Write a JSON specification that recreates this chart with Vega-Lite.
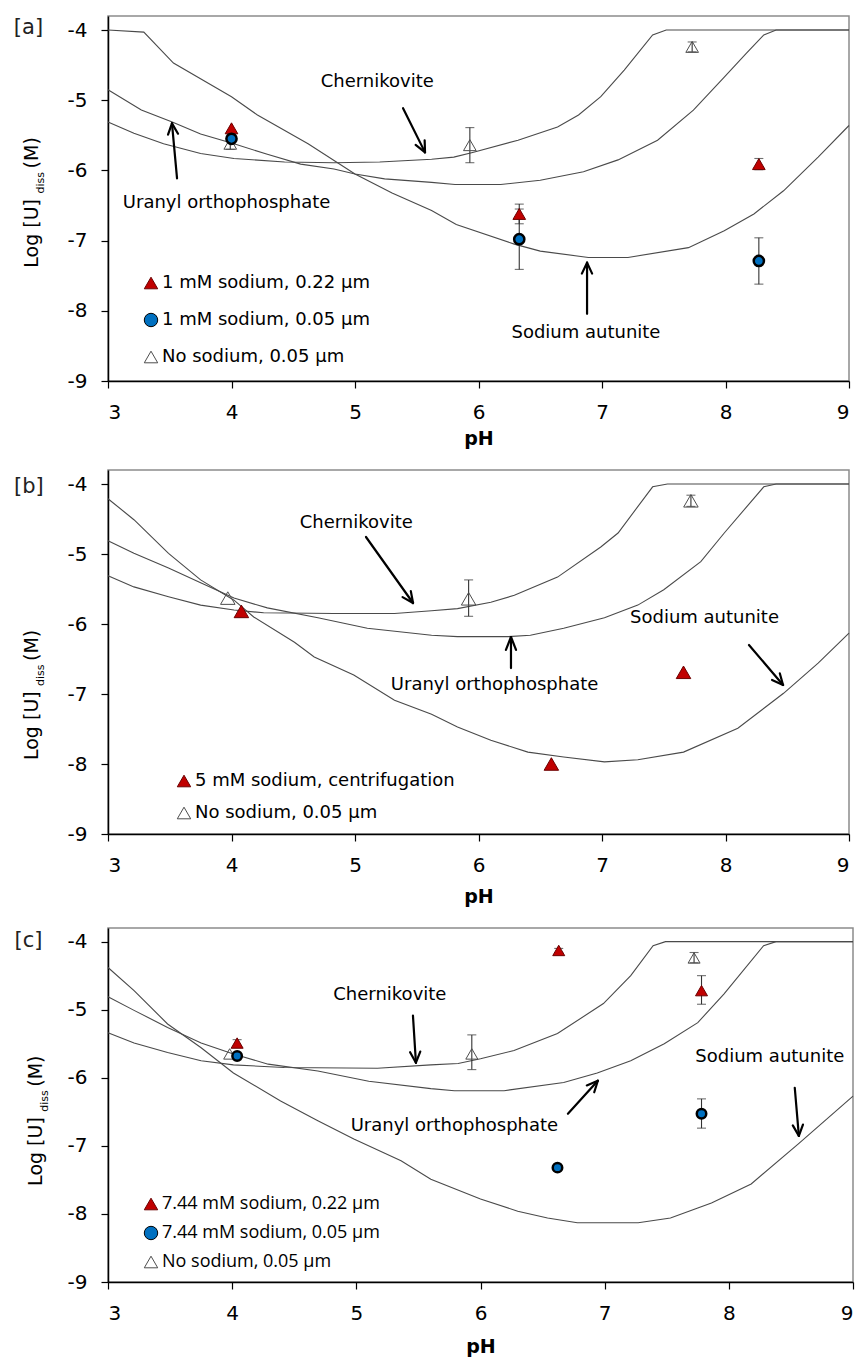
{
  "$schema": "https://vega.github.io/schema/vega-lite/v6.json",
  "background": "white",
  "padding": {"left": 13, "top": 15, "right": 5, "bottom": 5},
  "spacing": 20,
  "resolve": {
    "scale": {"fill": "independent", "shape": "independent", "stroke": "independent"},
    "legend": {"fill": "independent", "shape": "independent", "stroke": "independent"}
  },
  "config": {
    "font": "DejaVu Sans",
    "view": {"stroke": "#8c8c8c", "strokeWidth": 1.5},
    "axis": {
      "domainColor": "#000000", "domainWidth": 1.5,
      "tickColor": "#000000", "tickWidth": 1.2, "tickSize": 7,
      "labelColor": "#000000", "labelFont": "DejaVu Sans", "labelFontSize": 20,
      "grid": false,
      "titleColor": "#000000", "titleFont": "DejaVu Sans", "titleFontWeight": "bold", "titleFontSize": 19
    },
    "axisX": {"labelPadding": 14},
    "axisY": {"labelPadding": 14},
    "legend": {
      "labelColor": "#000000", "labelFont": "DejaVu Sans", "labelFontSize": 18,
      "symbolStrokeWidth": 1, "symbolSize": 180, "padding": 0, "labelOffset": 2, "labelLimit": 400
    },
    "text": {"font": "DejaVu Sans", "color": "#000000"}
  },
  "datasets": {
    "curves_a": [
      {"curve": "Sodium autunite", "pH": 3.0, "logU": -4.0},
      {"curve": "Sodium autunite", "pH": 3.29, "logU": -4.03},
      {"curve": "Sodium autunite", "pH": 3.53, "logU": -4.47},
      {"curve": "Sodium autunite", "pH": 4.0, "logU": -4.95},
      {"curve": "Sodium autunite", "pH": 4.21, "logU": -5.21},
      {"curve": "Sodium autunite", "pH": 4.62, "logU": -5.62},
      {"curve": "Sodium autunite", "pH": 5.0, "logU": -6.05},
      {"curve": "Sodium autunite", "pH": 5.3, "logU": -6.32},
      {"curve": "Sodium autunite", "pH": 5.62, "logU": -6.57},
      {"curve": "Sodium autunite", "pH": 5.82, "logU": -6.77},
      {"curve": "Sodium autunite", "pH": 6.29, "logU": -7.05},
      {"curve": "Sodium autunite", "pH": 6.5, "logU": -7.15},
      {"curve": "Sodium autunite", "pH": 6.89, "logU": -7.24},
      {"curve": "Sodium autunite", "pH": 7.21, "logU": -7.24},
      {"curve": "Sodium autunite", "pH": 7.7, "logU": -7.1},
      {"curve": "Sodium autunite", "pH": 7.99, "logU": -6.86},
      {"curve": "Sodium autunite", "pH": 8.23, "logU": -6.62},
      {"curve": "Sodium autunite", "pH": 8.47, "logU": -6.29},
      {"curve": "Sodium autunite", "pH": 8.75, "logU": -5.81},
      {"curve": "Sodium autunite", "pH": 9.0, "logU": -5.36},
      {"curve": "Chernikovite", "pH": 3.0, "logU": -5.31},
      {"curve": "Chernikovite", "pH": 3.21, "logU": -5.47},
      {"curve": "Chernikovite", "pH": 3.45, "logU": -5.62},
      {"curve": "Chernikovite", "pH": 3.75, "logU": -5.76},
      {"curve": "Chernikovite", "pH": 4.02, "logU": -5.83},
      {"curve": "Chernikovite", "pH": 4.43, "logU": -5.88},
      {"curve": "Chernikovite", "pH": 4.83, "logU": -5.89},
      {"curve": "Chernikovite", "pH": 5.2, "logU": -5.88},
      {"curve": "Chernikovite", "pH": 5.62, "logU": -5.84},
      {"curve": "Chernikovite", "pH": 5.8, "logU": -5.81},
      {"curve": "Chernikovite", "pH": 5.96, "logU": -5.74},
      {"curve": "Chernikovite", "pH": 6.32, "logU": -5.57},
      {"curve": "Chernikovite", "pH": 6.64, "logU": -5.38},
      {"curve": "Chernikovite", "pH": 6.81, "logU": -5.21},
      {"curve": "Chernikovite", "pH": 6.99, "logU": -4.95},
      {"curve": "Chernikovite", "pH": 7.18, "logU": -4.57},
      {"curve": "Chernikovite", "pH": 7.41, "logU": -4.07},
      {"curve": "Chernikovite", "pH": 7.52, "logU": -4.0},
      {"curve": "Chernikovite", "pH": 9.0, "logU": -4.0},
      {"curve": "Uranyl orthophosphate", "pH": 3.0, "logU": -4.85},
      {"curve": "Uranyl orthophosphate", "pH": 3.27, "logU": -5.14},
      {"curve": "Uranyl orthophosphate", "pH": 3.52, "logU": -5.31},
      {"curve": "Uranyl orthophosphate", "pH": 3.75, "logU": -5.48},
      {"curve": "Uranyl orthophosphate", "pH": 4.02, "logU": -5.62},
      {"curve": "Uranyl orthophosphate", "pH": 4.29, "logU": -5.77},
      {"curve": "Uranyl orthophosphate", "pH": 4.56, "logU": -5.91},
      {"curve": "Uranyl orthophosphate", "pH": 4.83, "logU": -5.98},
      {"curve": "Uranyl orthophosphate", "pH": 5.0, "logU": -6.05},
      {"curve": "Uranyl orthophosphate", "pH": 5.24, "logU": -6.12},
      {"curve": "Uranyl orthophosphate", "pH": 5.62, "logU": -6.17},
      {"curve": "Uranyl orthophosphate", "pH": 5.81, "logU": -6.2},
      {"curve": "Uranyl orthophosphate", "pH": 6.18, "logU": -6.2},
      {"curve": "Uranyl orthophosphate", "pH": 6.5, "logU": -6.14},
      {"curve": "Uranyl orthophosphate", "pH": 6.85, "logU": -6.02},
      {"curve": "Uranyl orthophosphate", "pH": 7.13, "logU": -5.85},
      {"curve": "Uranyl orthophosphate", "pH": 7.45, "logU": -5.57},
      {"curve": "Uranyl orthophosphate", "pH": 7.74, "logU": -5.14},
      {"curve": "Uranyl orthophosphate", "pH": 7.99, "logU": -4.67},
      {"curve": "Uranyl orthophosphate", "pH": 8.17, "logU": -4.33},
      {"curve": "Uranyl orthophosphate", "pH": 8.31, "logU": -4.07},
      {"curve": "Uranyl orthophosphate", "pH": 8.41, "logU": -4.0},
      {"curve": "Uranyl orthophosphate", "pH": 9.0, "logU": -4.0}
    ],
    "curves_b": [
      {"curve": "Sodium autunite", "pH": 3.0, "logU": -4.21},
      {"curve": "Sodium autunite", "pH": 3.21, "logU": -4.51},
      {"curve": "Sodium autunite", "pH": 3.49, "logU": -4.99},
      {"curve": "Sodium autunite", "pH": 3.75, "logU": -5.37},
      {"curve": "Sodium autunite", "pH": 4.02, "logU": -5.66},
      {"curve": "Sodium autunite", "pH": 4.18, "logU": -5.9},
      {"curve": "Sodium autunite", "pH": 4.51, "logU": -6.26},
      {"curve": "Sodium autunite", "pH": 4.67, "logU": -6.47},
      {"curve": "Sodium autunite", "pH": 4.99, "logU": -6.73},
      {"curve": "Sodium autunite", "pH": 5.32, "logU": -7.09},
      {"curve": "Sodium autunite", "pH": 5.62, "logU": -7.29},
      {"curve": "Sodium autunite", "pH": 5.83, "logU": -7.47},
      {"curve": "Sodium autunite", "pH": 6.1, "logU": -7.66},
      {"curve": "Sodium autunite", "pH": 6.4, "logU": -7.83},
      {"curve": "Sodium autunite", "pH": 6.69, "logU": -7.9},
      {"curve": "Sodium autunite", "pH": 7.02, "logU": -7.97},
      {"curve": "Sodium autunite", "pH": 7.29, "logU": -7.94},
      {"curve": "Sodium autunite", "pH": 7.66, "logU": -7.83},
      {"curve": "Sodium autunite", "pH": 8.1, "logU": -7.49},
      {"curve": "Sodium autunite", "pH": 8.47, "logU": -6.99},
      {"curve": "Sodium autunite", "pH": 8.75, "logU": -6.56},
      {"curve": "Sodium autunite", "pH": 9.0, "logU": -6.13},
      {"curve": "Chernikovite", "pH": 3.0, "logU": -5.31},
      {"curve": "Chernikovite", "pH": 3.21, "logU": -5.47},
      {"curve": "Chernikovite", "pH": 3.49, "logU": -5.61},
      {"curve": "Chernikovite", "pH": 3.75, "logU": -5.73},
      {"curve": "Chernikovite", "pH": 4.02, "logU": -5.8},
      {"curve": "Chernikovite", "pH": 4.26, "logU": -5.84},
      {"curve": "Chernikovite", "pH": 4.83, "logU": -5.85},
      {"curve": "Chernikovite", "pH": 5.32, "logU": -5.85},
      {"curve": "Chernikovite", "pH": 5.62, "logU": -5.81},
      {"curve": "Chernikovite", "pH": 5.83, "logU": -5.78},
      {"curve": "Chernikovite", "pH": 6.1, "logU": -5.69},
      {"curve": "Chernikovite", "pH": 6.29, "logU": -5.59},
      {"curve": "Chernikovite", "pH": 6.64, "logU": -5.33},
      {"curve": "Chernikovite", "pH": 6.99, "logU": -4.9},
      {"curve": "Chernikovite", "pH": 7.13, "logU": -4.7},
      {"curve": "Chernikovite", "pH": 7.41, "logU": -4.04},
      {"curve": "Chernikovite", "pH": 7.53, "logU": -4.0},
      {"curve": "Chernikovite", "pH": 9.0, "logU": -4.0},
      {"curve": "Uranyl orthophosphate", "pH": 3.0, "logU": -4.81},
      {"curve": "Uranyl orthophosphate", "pH": 3.21, "logU": -4.99},
      {"curve": "Uranyl orthophosphate", "pH": 3.49, "logU": -5.2},
      {"curve": "Uranyl orthophosphate", "pH": 3.75, "logU": -5.41},
      {"curve": "Uranyl orthophosphate", "pH": 4.02, "logU": -5.63},
      {"curve": "Uranyl orthophosphate", "pH": 4.29, "logU": -5.77},
      {"curve": "Uranyl orthophosphate", "pH": 4.7, "logU": -5.91},
      {"curve": "Uranyl orthophosphate", "pH": 5.1, "logU": -6.06},
      {"curve": "Uranyl orthophosphate", "pH": 5.62, "logU": -6.16},
      {"curve": "Uranyl orthophosphate", "pH": 5.83, "logU": -6.18},
      {"curve": "Uranyl orthophosphate", "pH": 6.24, "logU": -6.18},
      {"curve": "Uranyl orthophosphate", "pH": 6.42, "logU": -6.16},
      {"curve": "Uranyl orthophosphate", "pH": 6.69, "logU": -6.06},
      {"curve": "Uranyl orthophosphate", "pH": 7.02, "logU": -5.91},
      {"curve": "Uranyl orthophosphate", "pH": 7.29, "logU": -5.73},
      {"curve": "Uranyl orthophosphate", "pH": 7.5, "logU": -5.51},
      {"curve": "Uranyl orthophosphate", "pH": 7.8, "logU": -5.11},
      {"curve": "Uranyl orthophosphate", "pH": 7.99, "logU": -4.7},
      {"curve": "Uranyl orthophosphate", "pH": 8.31, "logU": -4.04},
      {"curve": "Uranyl orthophosphate", "pH": 8.41, "logU": -4.0},
      {"curve": "Uranyl orthophosphate", "pH": 9.0, "logU": -4.0}
    ],
    "curves_c": [
      {"curve": "Sodium autunite", "pH": 3.0, "logU": -4.38},
      {"curve": "Sodium autunite", "pH": 3.21, "logU": -4.72},
      {"curve": "Sodium autunite", "pH": 3.48, "logU": -5.21},
      {"curve": "Sodium autunite", "pH": 3.75, "logU": -5.56},
      {"curve": "Sodium autunite", "pH": 4.01, "logU": -5.93},
      {"curve": "Sodium autunite", "pH": 4.39, "logU": -6.34},
      {"curve": "Sodium autunite", "pH": 4.69, "logU": -6.63},
      {"curve": "Sodium autunite", "pH": 4.98, "logU": -6.9},
      {"curve": "Sodium autunite", "pH": 5.36, "logU": -7.22},
      {"curve": "Sodium autunite", "pH": 5.6, "logU": -7.49},
      {"curve": "Sodium autunite", "pH": 6.0, "logU": -7.78},
      {"curve": "Sodium autunite", "pH": 6.3, "logU": -7.96},
      {"curve": "Sodium autunite", "pH": 6.54, "logU": -8.06},
      {"curve": "Sodium autunite", "pH": 6.78, "logU": -8.13},
      {"curve": "Sodium autunite", "pH": 7.27, "logU": -8.13},
      {"curve": "Sodium autunite", "pH": 7.53, "logU": -8.06},
      {"curve": "Sodium autunite", "pH": 7.86, "logU": -7.84},
      {"curve": "Sodium autunite", "pH": 8.18, "logU": -7.56},
      {"curve": "Sodium autunite", "pH": 8.56, "logU": -6.97},
      {"curve": "Sodium autunite", "pH": 9.0, "logU": -6.27},
      {"curve": "Chernikovite", "pH": 3.0, "logU": -5.34},
      {"curve": "Chernikovite", "pH": 3.21, "logU": -5.49},
      {"curve": "Chernikovite", "pH": 3.48, "logU": -5.63},
      {"curve": "Chernikovite", "pH": 3.75, "logU": -5.75},
      {"curve": "Chernikovite", "pH": 4.01, "logU": -5.81},
      {"curve": "Chernikovite", "pH": 4.42, "logU": -5.85},
      {"curve": "Chernikovite", "pH": 5.17, "logU": -5.86},
      {"curve": "Chernikovite", "pH": 5.6, "logU": -5.81},
      {"curve": "Chernikovite", "pH": 5.82, "logU": -5.79},
      {"curve": "Chernikovite", "pH": 6.0, "logU": -5.72},
      {"curve": "Chernikovite", "pH": 6.27, "logU": -5.6},
      {"curve": "Chernikovite", "pH": 6.62, "logU": -5.35},
      {"curve": "Chernikovite", "pH": 6.99, "logU": -4.91},
      {"curve": "Chernikovite", "pH": 7.21, "logU": -4.5},
      {"curve": "Chernikovite", "pH": 7.39, "logU": -4.06},
      {"curve": "Chernikovite", "pH": 7.49, "logU": -4.0},
      {"curve": "Chernikovite", "pH": 9.0, "logU": -4.0},
      {"curve": "Uranyl orthophosphate", "pH": 3.0, "logU": -4.81},
      {"curve": "Uranyl orthophosphate", "pH": 3.21, "logU": -5.01},
      {"curve": "Uranyl orthophosphate", "pH": 3.48, "logU": -5.26},
      {"curve": "Uranyl orthophosphate", "pH": 3.75, "logU": -5.49},
      {"curve": "Uranyl orthophosphate", "pH": 4.01, "logU": -5.65},
      {"curve": "Uranyl orthophosphate", "pH": 4.29, "logU": -5.8},
      {"curve": "Uranyl orthophosphate", "pH": 4.69, "logU": -5.9},
      {"curve": "Uranyl orthophosphate", "pH": 5.1, "logU": -6.05},
      {"curve": "Uranyl orthophosphate", "pH": 5.6, "logU": -6.16},
      {"curve": "Uranyl orthophosphate", "pH": 5.79, "logU": -6.19},
      {"curve": "Uranyl orthophosphate", "pH": 6.19, "logU": -6.19},
      {"curve": "Uranyl orthophosphate", "pH": 6.67, "logU": -6.07},
      {"curve": "Uranyl orthophosphate", "pH": 6.94, "logU": -5.93},
      {"curve": "Uranyl orthophosphate", "pH": 7.21, "logU": -5.75},
      {"curve": "Uranyl orthophosphate", "pH": 7.48, "logU": -5.5},
      {"curve": "Uranyl orthophosphate", "pH": 7.75, "logU": -5.19},
      {"curve": "Uranyl orthophosphate", "pH": 7.96, "logU": -4.77},
      {"curve": "Uranyl orthophosphate", "pH": 8.28, "logU": -4.06},
      {"curve": "Uranyl orthophosphate", "pH": 8.38, "logU": -4.0},
      {"curve": "Uranyl orthophosphate", "pH": 9.0, "logU": -4.0}
    ],
    "points_a": [
      {"series": "No sodium, 0.05 µm", "pH": 3.99, "logU": -5.62, "lo": -5.7, "hi": -5.54},
      {"series": "No sodium, 0.05 µm", "pH": 5.93, "logU": -5.64, "lo": -5.89, "hi": -5.39},
      {"series": "No sodium, 0.05 µm", "pH": 7.73, "logU": -4.24, "lo": -4.31, "hi": -4.17},
      {"series": "1 mM sodium, 0.22 µm", "pH": 4.0, "logU": -5.4},
      {"series": "1 mM sodium, 0.22 µm", "pH": 6.33, "logU": -6.62, "lo": -6.76, "hi": -6.48},
      {"series": "1 mM sodium, 0.22 µm", "pH": 8.27, "logU": -5.91, "lo": -5.99, "hi": -5.83},
      {"series": "1 mM sodium, 0.05 µm", "pH": 4.0, "logU": -5.55},
      {"series": "1 mM sodium, 0.05 µm", "pH": 6.33, "logU": -6.98, "lo": -7.41, "hi": -6.55},
      {"series": "1 mM sodium, 0.05 µm", "pH": 8.27, "logU": -7.29, "lo": -7.62, "hi": -6.96}
    ],
    "points_b": [
      {"series": "No sodium, 0.05 µm", "pH": 3.97, "logU": -5.63},
      {"series": "No sodium, 0.05 µm", "pH": 5.92, "logU": -5.64, "lo": -5.89, "hi": -5.37},
      {"series": "No sodium, 0.05 µm", "pH": 7.72, "logU": -4.24, "lo": -4.32, "hi": -4.16},
      {"series": "5 mM sodium, centrifugation", "pH": 4.08, "logU": -5.82},
      {"series": "5 mM sodium, centrifugation", "pH": 6.59, "logU": -8.0},
      {"series": "5 mM sodium, centrifugation", "pH": 7.66, "logU": -6.69}
    ],
    "points_c": [
      {"series": "No sodium, 0.05 µm", "pH": 3.98, "logU": -5.65},
      {"series": "No sodium, 0.05 µm", "pH": 5.93, "logU": -5.65, "lo": -5.88, "hi": -5.37},
      {"series": "No sodium, 0.05 µm", "pH": 7.72, "logU": -4.24, "lo": -4.31, "hi": -4.16},
      {"series": "7.44 mM sodium, 0.22 µm", "pH": 4.04, "logU": -5.49, "lo": -5.54, "hi": -5.44},
      {"series": "7.44 mM sodium, 0.22 µm", "pH": 6.63, "logU": -4.13, "lo": -4.16, "hi": -4.1},
      {"series": "7.44 mM sodium, 0.22 µm", "pH": 7.78, "logU": -4.72, "lo": -4.92, "hi": -4.5},
      {"series": "7.44 mM sodium, 0.05 µm", "pH": 4.04, "logU": -5.68},
      {"series": "7.44 mM sodium, 0.05 µm", "pH": 6.62, "logU": -7.32},
      {"series": "7.44 mM sodium, 0.05 µm", "pH": 7.78, "logU": -6.53, "lo": -6.74, "hi": -6.31}
    ],
    "notes_a": [
      {"t": "Chernikovite", "pH": 5.18, "logU": -4.74},
      {"t": "Uranyl orthophosphate", "pH": 3.96, "logU": -6.46},
      {"t": "Sodium autunite", "pH": 6.87, "logU": -8.31}
    ],
    "notes_b": [
      {"t": "Chernikovite", "pH": 5.01, "logU": -4.56},
      {"t": "Uranyl orthophosphate", "pH": 6.13, "logU": -6.87},
      {"t": "Sodium autunite", "pH": 7.83, "logU": -5.91}
    ],
    "notes_c": [
      {"t": "Chernikovite", "pH": 5.27, "logU": -4.79},
      {"t": "Uranyl orthophosphate", "pH": 5.79, "logU": -6.71},
      {"t": "Sodium autunite", "pH": 8.33, "logU": -5.69}
    ],
    "arrows_a": [
      {"pH": 5.389, "logU": -5.114, "pH2": 5.567, "logU2": -5.743},
      {"pH": 5.567, "logU": -5.743, "pH2": 5.564, "logU2": -5.571},
      {"pH": 5.567, "logU": -5.743, "pH2": 5.491, "logU2": -5.636},
      {"pH": 3.559, "logU": -6.114, "pH2": 3.518, "logU2": -5.329},
      {"pH": 3.518, "logU": -5.329, "pH2": 3.486, "logU2": -5.49},
      {"pH": 3.518, "logU": -5.329, "pH2": 3.567, "logU2": -5.477},
      {"pH": 6.879, "logU": -8.043, "pH2": 6.879, "logU2": -7.314},
      {"pH": 6.879, "logU": -7.314, "pH2": 6.837, "logU2": -7.47},
      {"pH": 6.879, "logU": -7.314, "pH2": 6.92, "logU2": -7.47}
    ],
    "arrows_b": [
      {"pH": 5.089, "logU": -4.757, "pH2": 5.47, "logU2": -5.7},
      {"pH": 5.47, "logU": -5.7, "pH2": 5.452, "logU2": -5.531},
      {"pH": 5.47, "logU": -5.7, "pH2": 5.385, "logU2": -5.616},
      {"pH": 6.263, "logU": -6.629, "pH2": 6.263, "logU2": -6.186},
      {"pH": 6.263, "logU": -6.186, "pH2": 6.222, "logU2": -6.37},
      {"pH": 6.263, "logU": -6.186, "pH2": 6.304, "logU2": -6.37},
      {"pH": 8.19, "logU": -6.3, "pH2": 8.466, "logU2": -6.871},
      {"pH": 8.466, "logU": -6.871, "pH2": 8.44, "logU2": -6.706},
      {"pH": 8.466, "logU": -6.871, "pH2": 8.377, "logU2": -6.8}
    ],
    "arrows_c": [
      {"pH": 5.456, "logU": -5.088, "pH2": 5.48, "logU2": -5.779},
      {"pH": 5.48, "logU": -5.779, "pH2": 5.515, "logU2": -5.615},
      {"pH": 5.48, "logU": -5.779, "pH2": 5.433, "logU2": -5.625},
      {"pH": 6.704, "logU": -6.529, "pH2": 6.945, "logU2": -6.044},
      {"pH": 6.945, "logU": -6.044, "pH2": 6.856, "logU2": -6.112},
      {"pH": 6.945, "logU": -6.044, "pH2": 6.916, "logU2": -6.213},
      {"pH": 8.531, "logU": -6.147, "pH2": 8.564, "logU2": -6.853},
      {"pH": 8.564, "logU": -6.853, "pH2": 8.597, "logU2": -6.687},
      {"pH": 8.564, "logU": -6.853, "pH2": 8.515, "logU2": -6.7}
    ]
  },
  "vconcat": [
    {
      "width": 741,
      "height": 365,
      "encoding": {
        "x": {"field": "pH", "type": "quantitative", "scale": {"domain": [3, 9], "nice": false, "zero": false}, "axis": {"values": [3, 4, 5, 6, 7, 8, 9], "title": "pH", "titlePadding": 7}},
        "y": {"field": "logU", "type": "quantitative", "scale": {"domain": [-9, -3.8], "nice": false, "zero": false}, "axis": {"values": [-9, -8, -7, -6, -5, -4], "labelExpr": "'' + datum.value", "title": null}}
      },
      "layer": [
        {"data": {"name": "curves_a"}, "mark": {"type": "line", "color": "#4a4a4a", "strokeWidth": 1.1}, "encoding": {"detail": {"field": "curve"}}},
        {"data": {"name": "points_a"}, "transform": [{"filter": "isValid(datum.lo)"}], "mark": {"type": "rule", "color": "#333333", "strokeWidth": 1.1},
         "encoding": {"y": {"field": "lo", "type": "quantitative", "scale": {"domain": [-9, -3.8], "nice": false, "zero": false}, "axis": {"values": [-9, -8, -7, -6, -5, -4], "labelExpr": "'' + datum.value", "title": null}}, "y2": {"field": "hi"}}},
        {"data": {"name": "points_a"}, "transform": [{"filter": "isValid(datum.lo)"}], "mark": {"type": "tick", "orient": "horizontal", "size": 9, "thickness": 1.1, "color": "#333333"},
         "encoding": {"y": {"field": "lo", "type": "quantitative", "scale": {"domain": [-9, -3.8], "nice": false, "zero": false}, "axis": {"values": [-9, -8, -7, -6, -5, -4], "labelExpr": "'' + datum.value", "title": null}}}},
        {"data": {"name": "points_a"}, "transform": [{"filter": "isValid(datum.hi)"}], "mark": {"type": "tick", "orient": "horizontal", "size": 9, "thickness": 1.1, "color": "#333333"},
         "encoding": {"y": {"field": "hi", "type": "quantitative", "scale": {"domain": [-9, -3.8], "nice": false, "zero": false}, "axis": {"values": [-9, -8, -7, -6, -5, -4], "labelExpr": "'' + datum.value", "title": null}}}},
        {"data": {"name": "points_a"}, "transform": [{"filter": "datum.series != '1 mM sodium, 0.05 µm'"}], "mark": {"type": "point", "filled": false, "size": 160, "strokeWidth": 1, "opacity": 1},
         "encoding": {
           "fill": {"field": "series", "type": "nominal", "scale": {"domain": ["1 mM sodium, 0.22 µm", "1 mM sodium, 0.05 µm", "No sodium, 0.05 µm"], "range": ["#c00000", "#0070c0", "transparent"]},
                    "legend": {"orient": "none", "legendX": 34, "legendY": 258, "title": null, "rowPadding": 19}},
           "shape": {"field": "series", "type": "nominal", "scale": {"domain": ["1 mM sodium, 0.22 µm", "1 mM sodium, 0.05 µm", "No sodium, 0.05 µm"], "range": ["triangle-up", "circle", "triangle-up"]}},
           "stroke": {"field": "series", "type": "nominal", "scale": {"domain": ["1 mM sodium, 0.22 µm", "1 mM sodium, 0.05 µm", "No sodium, 0.05 µm"], "range": ["#6b0000", "#000000", "#4d4d4d"]}}
         }},
        {"data": {"name": "points_a"}, "transform": [{"filter": "datum.series == '1 mM sodium, 0.05 µm'"}], "mark": {"type": "point", "filled": false, "size": 104, "strokeWidth": 2.5, "opacity": 1},
         "encoding": {
           "fill": {"field": "series", "type": "nominal", "scale": {"domain": ["1 mM sodium, 0.22 µm", "1 mM sodium, 0.05 µm", "No sodium, 0.05 µm"], "range": ["#c00000", "#0070c0", "transparent"]}},
           "shape": {"field": "series", "type": "nominal", "scale": {"domain": ["1 mM sodium, 0.22 µm", "1 mM sodium, 0.05 µm", "No sodium, 0.05 µm"], "range": ["triangle-up", "circle", "triangle-up"]}},
           "stroke": {"field": "series", "type": "nominal", "scale": {"domain": ["1 mM sodium, 0.22 µm", "1 mM sodium, 0.05 µm", "No sodium, 0.05 µm"], "range": ["#6b0000", "#000000", "#4d4d4d"]}}
         }},
        {"data": {"name": "notes_a"}, "mark": {"type": "text", "fontSize": 18, "align": "center", "baseline": "middle"}, "encoding": {"text": {"field": "t"}}},
        {"data": {"name": "arrows_a"}, "mark": {"type": "rule", "color": "#000000", "strokeWidth": 2.2, "strokeCap": "round"}, "encoding": {"x2": {"field": "pH2"}, "y2": {"field": "logU2"}}},
        {"data": {"values": [{"t": "[a]", "pH": 2.356, "logU": -3.971}]}, "mark": {"type": "text", "fontSize": 21, "align": "center", "baseline": "middle", "color": "#222222"}, "encoding": {"text": {"field": "t"}}},
        {"data": {"values": [{"t": "Log [U]", "pH": 2.433, "logU": -7.386}, {"t": "(M)", "pH": 2.433, "logU": -5.971}]}, "mark": {"type": "text", "fontSize": 19, "angle": 270, "align": "left", "baseline": "alphabetic"}, "encoding": {"text": {"field": "t"}}},
        {"data": {"values": [{"t": "diss", "pH": 2.482, "logU": -6.329}]}, "mark": {"type": "text", "fontSize": 11, "angle": 270, "align": "left", "baseline": "alphabetic"}, "encoding": {"text": {"field": "t"}}}
      ]
    },
    {
      "width": 741,
      "height": 364,
      "encoding": {
        "x": {"field": "pH", "type": "quantitative", "scale": {"domain": [3, 9], "nice": false, "zero": false}, "axis": {"values": [3, 4, 5, 6, 7, 8, 9], "title": "pH", "titlePadding": 12}},
        "y": {"field": "logU", "type": "quantitative", "scale": {"domain": [-9, -3.8], "nice": false, "zero": false}, "axis": {"values": [-9, -8, -7, -6, -5, -4], "labelExpr": "'' + datum.value", "title": null}}
      },
      "layer": [
        {"data": {"name": "curves_b"}, "mark": {"type": "line", "color": "#4a4a4a", "strokeWidth": 1.1}, "encoding": {"detail": {"field": "curve"}}},
        {"data": {"name": "points_b"}, "transform": [{"filter": "isValid(datum.lo)"}], "mark": {"type": "rule", "color": "#333333", "strokeWidth": 1.1},
         "encoding": {"y": {"field": "lo", "type": "quantitative", "scale": {"domain": [-9, -3.8], "nice": false, "zero": false}, "axis": {"values": [-9, -8, -7, -6, -5, -4], "labelExpr": "'' + datum.value", "title": null}}, "y2": {"field": "hi"}}},
        {"data": {"name": "points_b"}, "transform": [{"filter": "isValid(datum.lo)"}], "mark": {"type": "tick", "orient": "horizontal", "size": 9, "thickness": 1.1, "color": "#333333"},
         "encoding": {"y": {"field": "lo", "type": "quantitative", "scale": {"domain": [-9, -3.8], "nice": false, "zero": false}, "axis": {"values": [-9, -8, -7, -6, -5, -4], "labelExpr": "'' + datum.value", "title": null}}}},
        {"data": {"name": "points_b"}, "transform": [{"filter": "isValid(datum.hi)"}], "mark": {"type": "tick", "orient": "horizontal", "size": 9, "thickness": 1.1, "color": "#333333"},
         "encoding": {"y": {"field": "hi", "type": "quantitative", "scale": {"domain": [-9, -3.8], "nice": false, "zero": false}, "axis": {"values": [-9, -8, -7, -6, -5, -4], "labelExpr": "'' + datum.value", "title": null}}}},
        {"data": {"name": "points_b"}, "mark": {"type": "point", "filled": false, "size": 210, "strokeWidth": 1, "opacity": 1},
         "encoding": {
           "fill": {"field": "series", "type": "nominal", "scale": {"domain": ["5 mM sodium, centrifugation", "No sodium, 0.05 µm"], "range": ["#c00000", "transparent"]},
                    "legend": {"orient": "none", "legendX": 67, "legendY": 302, "title": null, "rowPadding": 14}},
           "shape": {"field": "series", "type": "nominal", "scale": {"domain": ["5 mM sodium, centrifugation", "No sodium, 0.05 µm"], "range": ["triangle-up", "triangle-up"]}},
           "stroke": {"field": "series", "type": "nominal", "scale": {"domain": ["5 mM sodium, centrifugation", "No sodium, 0.05 µm"], "range": ["#6b0000", "#4d4d4d"]}}
         }},
        {"data": {"name": "notes_b"}, "mark": {"type": "text", "fontSize": 18, "align": "center", "baseline": "middle"}, "encoding": {"text": {"field": "t"}}},
        {"data": {"name": "arrows_b"}, "mark": {"type": "rule", "color": "#000000", "strokeWidth": 2.2, "strokeCap": "round"}, "encoding": {"x2": {"field": "pH2"}, "y2": {"field": "logU2"}}},
        {"data": {"values": [{"t": "[b]", "pH": 2.36, "logU": -4.043}]}, "mark": {"type": "text", "fontSize": 21, "align": "center", "baseline": "middle", "color": "#222222"}, "encoding": {"text": {"field": "t"}}},
        {"data": {"values": [{"t": "Log [U]", "pH": 2.433, "logU": -7.943}, {"t": "(M)", "pH": 2.433, "logU": -6.529}]}, "mark": {"type": "text", "fontSize": 19, "angle": 270, "align": "left", "baseline": "alphabetic"}, "encoding": {"text": {"field": "t"}}},
        {"data": {"values": [{"t": "diss", "pH": 2.482, "logU": -6.886}]}, "mark": {"type": "text", "fontSize": 11, "angle": 270, "align": "left", "baseline": "alphabetic"}, "encoding": {"text": {"field": "t"}}}
      ]
    },
    {
      "width": 745,
      "height": 354,
      "encoding": {
        "x": {"field": "pH", "type": "quantitative", "scale": {"domain": [3, 9], "nice": false, "zero": false}, "axis": {"values": [3, 4, 5, 6, 7, 8, 9], "title": "pH", "titlePadding": 14}},
        "y": {"field": "logU", "type": "quantitative", "scale": {"domain": [-9, -3.8], "nice": false, "zero": false}, "axis": {"values": [-9, -8, -7, -6, -5, -4], "labelExpr": "'' + datum.value", "title": null}}
      },
      "layer": [
        {"data": {"name": "curves_c"}, "mark": {"type": "line", "color": "#4a4a4a", "strokeWidth": 1.1}, "encoding": {"detail": {"field": "curve"}}},
        {"data": {"name": "points_c"}, "transform": [{"filter": "isValid(datum.lo)"}], "mark": {"type": "rule", "color": "#333333", "strokeWidth": 1.1},
         "encoding": {"y": {"field": "lo", "type": "quantitative", "scale": {"domain": [-9, -3.8], "nice": false, "zero": false}, "axis": {"values": [-9, -8, -7, -6, -5, -4], "labelExpr": "'' + datum.value", "title": null}}, "y2": {"field": "hi"}}},
        {"data": {"name": "points_c"}, "transform": [{"filter": "isValid(datum.lo)"}], "mark": {"type": "tick", "orient": "horizontal", "size": 9, "thickness": 1.1, "color": "#333333"},
         "encoding": {"y": {"field": "lo", "type": "quantitative", "scale": {"domain": [-9, -3.8], "nice": false, "zero": false}, "axis": {"values": [-9, -8, -7, -6, -5, -4], "labelExpr": "'' + datum.value", "title": null}}}},
        {"data": {"name": "points_c"}, "transform": [{"filter": "isValid(datum.hi)"}], "mark": {"type": "tick", "orient": "horizontal", "size": 9, "thickness": 1.1, "color": "#333333"},
         "encoding": {"y": {"field": "hi", "type": "quantitative", "scale": {"domain": [-9, -3.8], "nice": false, "zero": false}, "axis": {"values": [-9, -8, -7, -6, -5, -4], "labelExpr": "'' + datum.value", "title": null}}}},
        {"data": {"name": "points_c"}, "transform": [{"filter": "datum.series != '7.44 mM sodium, 0.05 µm'"}], "mark": {"type": "point", "filled": false, "size": 144, "strokeWidth": 1, "opacity": 1},
         "encoding": {
           "fill": {"field": "series", "type": "nominal", "scale": {"domain": ["7.44 mM sodium, 0.22 µm", "7.44 mM sodium, 0.05 µm", "No sodium, 0.05 µm"], "range": ["#c00000", "#0070c0", "transparent"]},
                    "legend": {"orient": "none", "legendX": 34, "legendY": 267, "title": null, "rowPadding": 11, "labelFont": "Open Sans", "labelFontSize": 18}},
           "shape": {"field": "series", "type": "nominal", "scale": {"domain": ["7.44 mM sodium, 0.22 µm", "7.44 mM sodium, 0.05 µm", "No sodium, 0.05 µm"], "range": ["triangle-up", "circle", "triangle-up"]}},
           "stroke": {"field": "series", "type": "nominal", "scale": {"domain": ["7.44 mM sodium, 0.22 µm", "7.44 mM sodium, 0.05 µm", "No sodium, 0.05 µm"], "range": ["#6b0000", "#000000", "#4d4d4d"]}}
         }},
        {"data": {"name": "points_c"}, "transform": [{"filter": "datum.series == '7.44 mM sodium, 0.05 µm'"}], "mark": {"type": "point", "filled": false, "size": 90, "strokeWidth": 2.5, "opacity": 1},
         "encoding": {
           "fill": {"field": "series", "type": "nominal", "scale": {"domain": ["7.44 mM sodium, 0.22 µm", "7.44 mM sodium, 0.05 µm", "No sodium, 0.05 µm"], "range": ["#c00000", "#0070c0", "transparent"]}},
           "shape": {"field": "series", "type": "nominal", "scale": {"domain": ["7.44 mM sodium, 0.22 µm", "7.44 mM sodium, 0.05 µm", "No sodium, 0.05 µm"], "range": ["triangle-up", "circle", "triangle-up"]}},
           "stroke": {"field": "series", "type": "nominal", "scale": {"domain": ["7.44 mM sodium, 0.22 µm", "7.44 mM sodium, 0.05 µm", "No sodium, 0.05 µm"], "range": ["#6b0000", "#000000", "#4d4d4d"]}}
         }},
        {"data": {"name": "notes_c"}, "mark": {"type": "text", "fontSize": 18, "align": "center", "baseline": "middle"}, "encoding": {"text": {"field": "t"}}},
        {"data": {"name": "arrows_c"}, "mark": {"type": "rule", "color": "#000000", "strokeWidth": 2.2, "strokeCap": "round"}, "encoding": {"x2": {"field": "pH2"}, "y2": {"field": "logU2"}}},
        {"data": {"values": [{"t": "[c]", "pH": 2.36, "logU": -3.985}]}, "mark": {"type": "text", "fontSize": 21, "align": "center", "baseline": "middle", "color": "#222222"}, "encoding": {"text": {"field": "t"}}},
        {"data": {"values": [{"t": "Log [U]", "pH": 2.469, "logU": -7.588}, {"t": "(M)", "pH": 2.469, "logU": -6.132}]}, "mark": {"type": "text", "fontSize": 19, "angle": 270, "align": "left", "baseline": "alphabetic"}, "encoding": {"text": {"field": "t"}}},
        {"data": {"values": [{"t": "diss", "pH": 2.517, "logU": -6.5}]}, "mark": {"type": "text", "fontSize": 11, "angle": 270, "align": "left", "baseline": "alphabetic"}, "encoding": {"text": {"field": "t"}}}
      ]
    }
  ]
}
